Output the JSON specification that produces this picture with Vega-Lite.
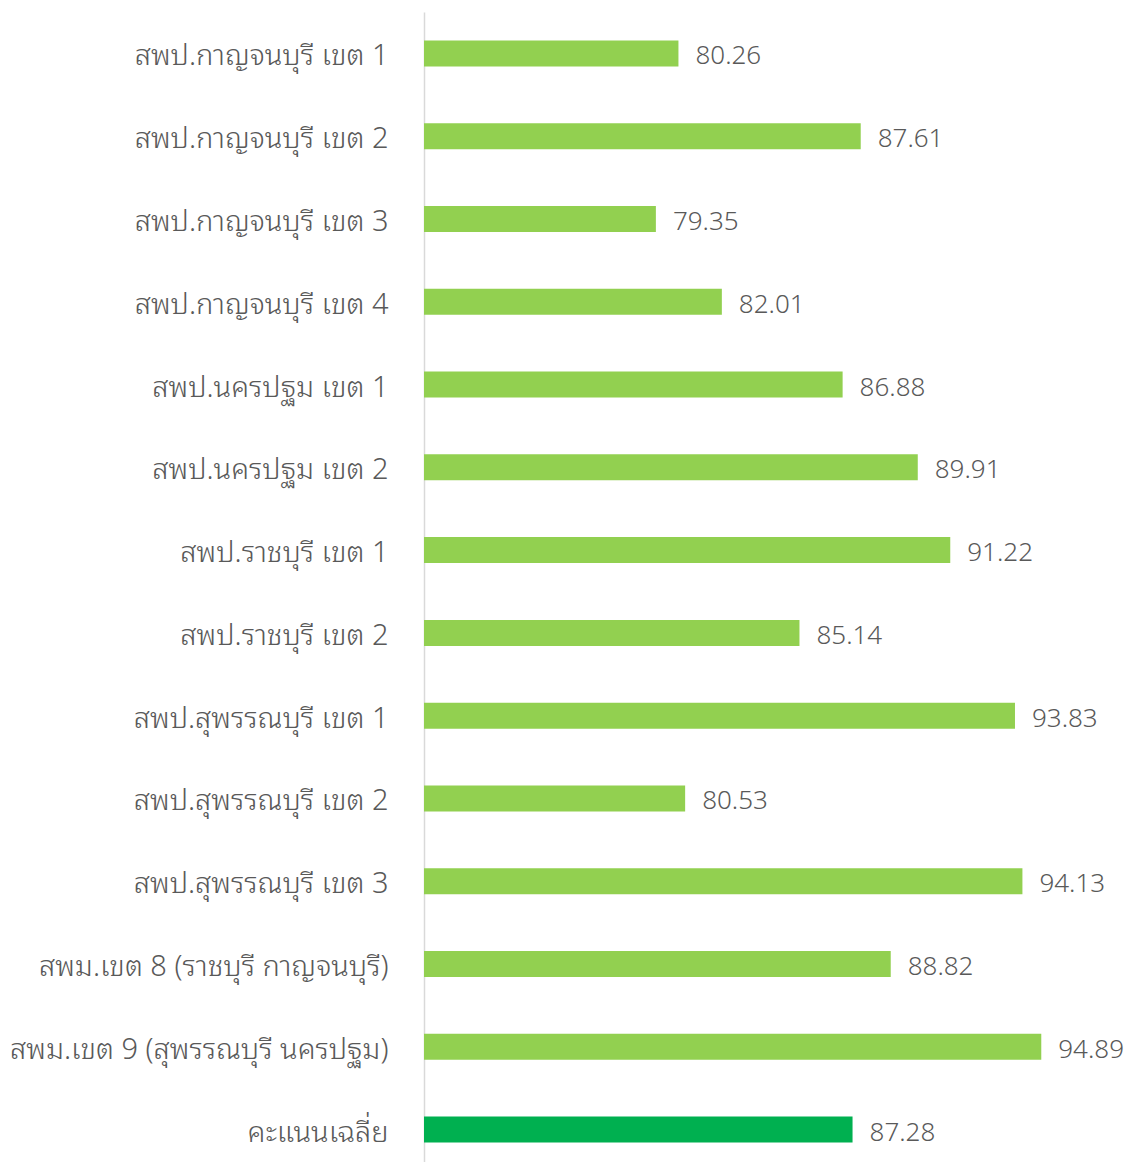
{
  "$schema": "https://vega.github.io/schema/vega-lite/v6.json",
  "autosize": "none",
  "width": 620,
  "height": 1159,
  "padding": {"left": 424, "top": 12, "right": 86, "bottom": 0},
  "background": "white",
  "config": {"view": {"stroke": null}},
  "data": {
    "values": [
      {"name": "สพป.กาญจนบุรี เขต 1", "score": 80.26, "type": "area"},
      {"name": "สพป.กาญจนบุรี เขต 2", "score": 87.61, "type": "area"},
      {"name": "สพป.กาญจนบุรี เขต 3", "score": 79.35, "type": "area"},
      {"name": "สพป.กาญจนบุรี เขต 4", "score": 82.01, "type": "area"},
      {"name": "สพป.นครปฐม เขต 1", "score": 86.88, "type": "area"},
      {"name": "สพป.นครปฐม เขต 2", "score": 89.91, "type": "area"},
      {"name": "สพป.ราชบุรี เขต 1", "score": 91.22, "type": "area"},
      {"name": "สพป.ราชบุรี เขต 2", "score": 85.14, "type": "area"},
      {"name": "สพป.สุพรรณบุรี เขต 1", "score": 93.83, "type": "area"},
      {"name": "สพป.สุพรรณบุรี เขต 2", "score": 80.53, "type": "area"},
      {"name": "สพป.สุพรรณบุรี เขต 3", "score": 94.13, "type": "area"},
      {"name": "สพม.เขต 8 (ราชบุรี กาญจนบุรี)", "score": 88.82, "type": "area"},
      {"name": "สพม.เขต 9 (สุพรรณบุรี นครปฐม)", "score": 94.89, "type": "area"},
      {"name": "คะแนนเฉลี่ย", "score": 87.28, "type": "average"}
    ]
  },
  "encoding": {
    "y": {
      "field": "name",
      "type": "nominal",
      "sort": null,
      "scale": {"paddingInner": 0, "paddingOuter": 0},
      "axis": {
        "title": null,
        "ticks": false,
        "domainColor": "#d9d9d9",
        "domainWidth": 1.5,
        "labelFont": "Noto Sans Thai Looped, Noto Sans Thai, Noto Sans",
        "labelFontSize": 29,
        "labelFontWeight": 300,
        "labelColor": "#595959",
        "labelPadding": 36,
        "labelOffset": 3,
        "labelLimit": 500
      }
    },
    "x": {
      "field": "score",
      "type": "quantitative",
      "scale": {"domain": [70, 95], "zero": false, "nice": false},
      "axis": null
    }
  },
  "layer": [
    {
      "mark": {"type": "bar", "size": 26, "clip": false},
      "encoding": {
        "x2": {"datum": 70},
        "color": {
          "field": "type",
          "type": "nominal",
          "scale": {"domain": ["area", "average"], "range": ["#92D050", "#00B050"]},
          "legend": null
        }
      }
    },
    {
      "mark": {"type": "text", "align": "left", "baseline": "middle", "dx": 17, "dy": 3, "font": "Noto Sans", "fontSize": 26, "fontWeight": 300, "color": "#595959"},
      "encoding": {
        "text": {"field": "score", "type": "quantitative", "format": ".2f"}
      }
    }
  ]
}
